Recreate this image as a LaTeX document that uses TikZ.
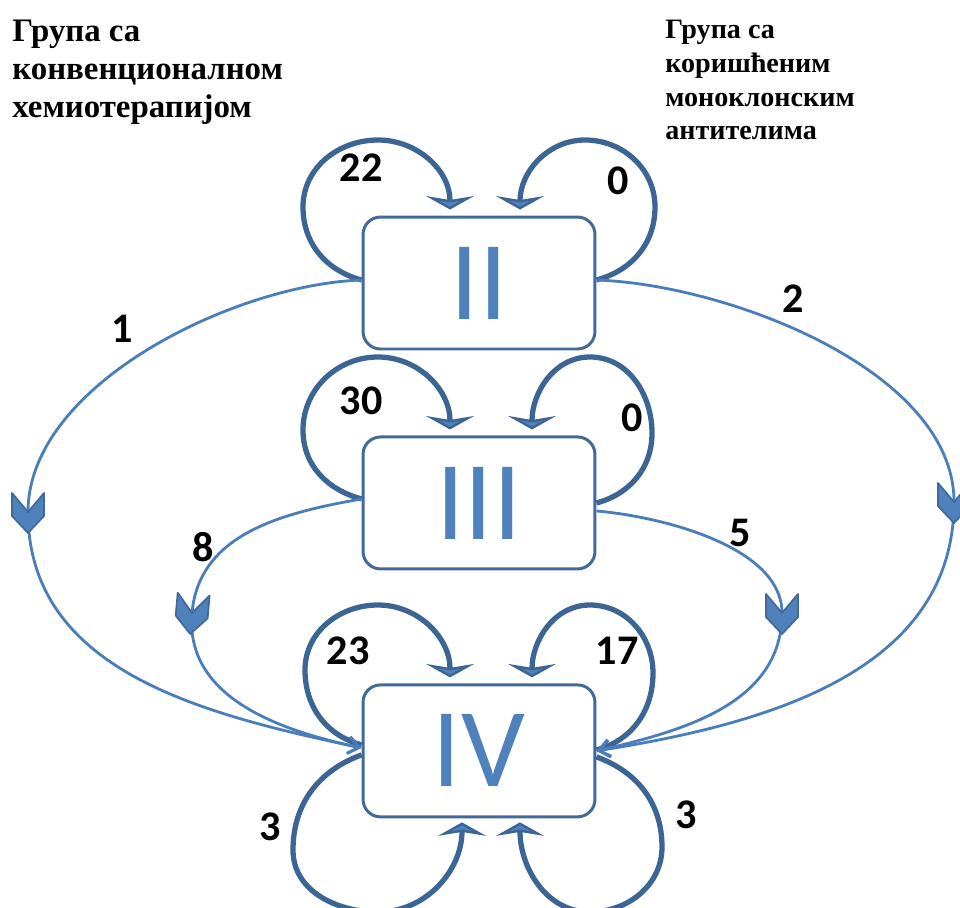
\documentclass[tikz,border=0pt]{standalone}
\usepackage{fontspec}
\setmainfont{Liberation Serif}
\newfontfamily\calibri{Carlito}
\usetikzlibrary{positioning,arrows.meta}
\definecolor{boxline}{HTML}{41699A}
\definecolor{numeral}{HTML}{4F81BD}
\definecolor{loopline}{HTML}{3C6595}
\definecolor{flowline}{HTML}{4A7EBB}

\tikzset{
  chev/.pic={
    \filldraw[fill=numeral, draw=boxline, line width=1pt, line join=round]
      (21,0) -- (4,16) -- (-19,16) -- (0,0) -- (-19,-16) -- (4,-16) -- cycle;
  }
}

\begin{document}
\begin{tikzpicture}[
    x=0.02cm, y=0.02cm,
    stage/.style={draw=boxline, line width=1.7pt, rounded corners=0.35cm,
      minimum width=4.64cm, minimum height=2.64cm, inner sep=0pt,
      text=numeral, font=\calibri\fontsize{64}{70}\selectfont},
    selfloop/.style={draw=loopline, line width=3pt,
      -{Stealth[length=0.27cm, width=0.96cm, inset=0.08cm, fill=numeral]}},
    flow/.style={draw=flowline, line width=1.6pt,
      -{Straight Barb[length=0.22cm, width=0.34cm]}},
    count/.style={inner sep=0pt, font=\calibri\bfseries\fontsize{24}{24}\selectfont},
    group/.style={inner sep=0pt, align=left, anchor=north west}
  ]
  \useasboundingbox (0,0) rectangle (960,-907);

  % group headings
  \node[group, font=\bfseries\fontsize{18.7}{21.6}\selectfont] (left) at (12,-20)
    {Група са\\конвенционалном\\хемиотерапијом};
  \node[group, font=\bfseries\fontsize{16}{19.2}\selectfont] (right) at (665,-20)
    {Група са\\коришћеним\\моноклонским\\антителима};

  % stages
  \node[stage] (II) at (479,-283) {II};
  \node[stage, below=1.70cm of II] (III) {III};
  \node[stage, below=2.26cm of III] (IV) {IV};

  % patients who stay in the same stage
  \draw[selfloop] ([shift={(0,3)}]II.west) to[out=165,in=270] (303,-207)
    to[out=90,in=180] (378,-140) to[out=0,in=90] ([shift={(-29,6)}]II.north);
  \draw[selfloop] ([shift={(0,3)}]II.east) to[out=15,in=270] (655,-207)
    to[out=90,in=0] (585,-140) to[out=180,in=90] ([shift={(41,6)}]II.north);
  \draw[selfloop] ([shift={(0,4)}]III.west) to[out=165,in=270] (303,-430)
    to[out=90,in=180] (378,-357) to[out=0,in=90] ([shift={(-29,6)}]III.north);
  \draw[selfloop] (III.east) to[out=15,in=270] (652,-433)
    to[out=90,in=0] (590,-357) to[out=180,in=90] ([shift={(53,6)}]III.north);
  \draw[selfloop] ([shift={(0,6)}]IV.west) to[out=165,in=270] (305,-670)
    to[out=90,in=180] (378,-605) to[out=0,in=90] ([shift={(-29,6)}]IV.north);
  \draw[selfloop] ([shift={(0,1)}]IV.east) to[out=15,in=270] (653,-673)
    to[out=90,in=0] (590,-605) to[out=180,in=90] ([shift={(53,6)}]IV.north);
  \draw[selfloop] ([shift={(0,-4)}]IV.west) to[out=200,in=90] (293,-850)
    to[out=270,in=180] (378,-912) to[out=0,in=270] ([shift={(-17,-4)}]IV.south);
  \draw[selfloop] ([shift={(0,-6)}]IV.east) to[out=-20,in=90] (662,-847)
    to[out=270,in=0] (590,-912) to[out=180,in=270] ([shift={(41,-4)}]IV.south);

  % progression between stages
  \coordinate (j1) at (28,-512);
  \coordinate (j2) at (954,-502);
  \coordinate (j8) at (192,-613);
  \coordinate (j5) at (782,-613);
  \draw[flow] ([shift={(0,3)}]II.west) to[out=182,in=90,looseness=0.8] (j1)
    to[out=270,in=168] ([shift={(0,3)}]IV.west);
  \draw[flow] ([shift={(0,3)}]II.east) to[out=-2,in=90,looseness=0.8] (j2)
    to[out=270,in=9] (IV.east);
  \draw[flow] ([shift={(0,4)}]III.west) to[out=190,in=85] (j8)
    to[out=265,in=168] ([shift={(0,3)}]IV.west);
  \draw[flow] ([shift={(0,-8)}]III.east) to[out=-5,in=90,looseness=0.8] (j5)
    to[out=270,in=13] (IV.east);
  \pic[rotate=-90] at (j1) {chev};
  \pic[rotate=-90] at (j2) {chev};
  \pic[rotate=-95] at (j8) {chev};
  \pic[rotate=-90] at (j5) {chev};

  % counts
  \node[count] (n22) at (361,-168) {22};
  \node[count] (n0a) at (618,-181) {0};
  \node[count] (n1) at (122,-329) {1};
  \node[count] (n2) at (793,-299) {2};
  \node[count] (n30) at (361,-401) {30};
  \node[count] (n0b) at (632,-418) {0};
  \node[count] (n8) at (203,-547) {8};
  \node[count] (n5) at (740,-533) {5};
  \node[count] (n23) at (348,-651) {23};
  \node[count] (n17) at (617,-651) {17};
  \node[count] (n3a) at (270,-827) {3};
  \node[count] (n3b) at (686,-815) {3};
\end{tikzpicture}
\end{document}
